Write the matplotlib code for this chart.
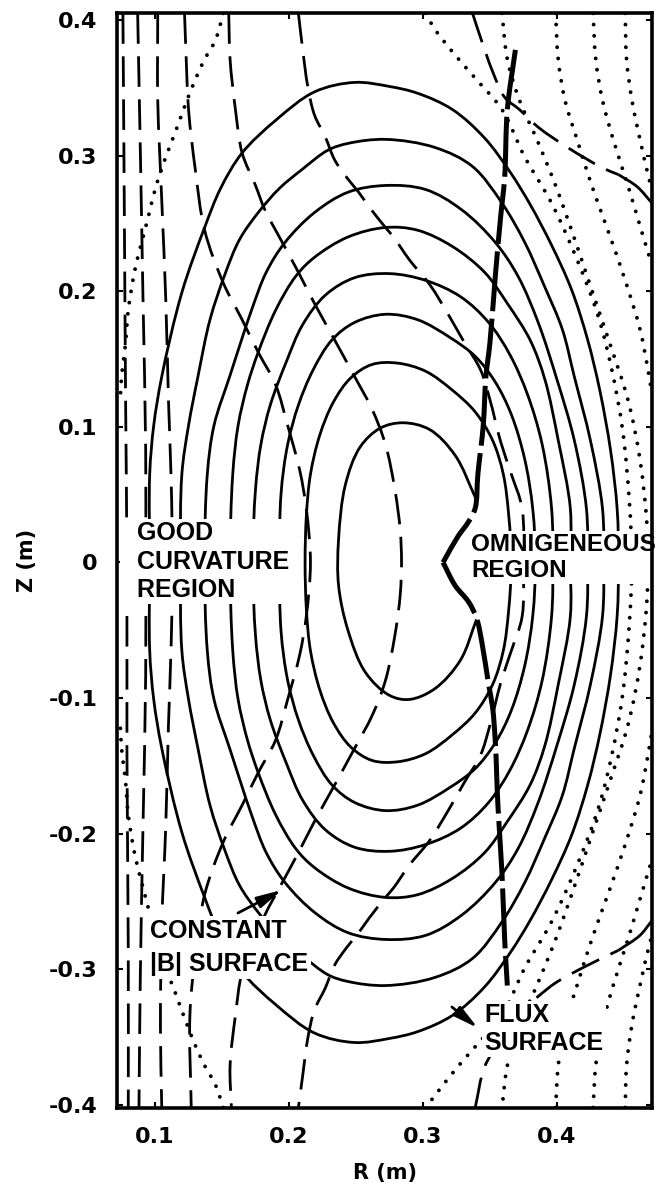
import numpy as np
import matplotlib
matplotlib.use('Agg')
import matplotlib.pyplot as plt
from matplotlib.path import Path
from matplotlib.patches import PathPatch
from matplotlib import font_manager

plt.rcParams['axes.unicode_minus'] = False

# ---- flux surfaces (solid), outermost first, R and Z in metres ----
# each surface: upper half from the outboard midplane round to the inboard one, then the lower half back
s1_up_r = [0.446, 0.445, 0.440, 0.432, 0.423, 0.411, 0.396, 0.380, 0.365, 0.346, 0.322, 0.296, 0.275, 0.249,
           0.219, 0.190, 0.165, 0.149, 0.137, 0.120, 0.105, 0.099, 0.096, 0.096]
s1_up_z = [0.0, 0.039, 0.083, 0.127, 0.164, 0.201, 0.234, 0.264, 0.288, 0.313, 0.334, 0.346, 0.351, 0.354,
           0.347, 0.326, 0.302, 0.276, 0.247, 0.199, 0.137, 0.101, 0.065, 0.0]
s1_lo_r = [0.096, 0.099, 0.105, 0.120, 0.137, 0.149, 0.165, 0.190, 0.219, 0.249, 0.275, 0.296, 0.322, 0.346,
           0.365, 0.380, 0.396, 0.411, 0.423, 0.432, 0.440, 0.445]
s1_lo_z = [-0.065, -0.101, -0.137, -0.199, -0.247, -0.276, -0.302, -0.326, -0.347, -0.354, -0.351, -0.346,
           -0.334, -0.313, -0.288, -0.264, -0.234, -0.201, -0.164, -0.127, -0.083, -0.039]

s2_up_r = [0.435, 0.434, 0.425, 0.413, 0.404, 0.391, 0.376, 0.359, 0.337, 0.309, 0.272, 0.244, 0.229, 0.210,
           0.193, 0.177, 0.163, 0.152, 0.141, 0.132, 0.125, 0.120, 0.119]
s2_up_z = [0.0, 0.040, 0.090, 0.137, 0.172, 0.203, 0.236, 0.265, 0.292, 0.306, 0.312, 0.309, 0.304, 0.290,
           0.276, 0.258, 0.238, 0.212, 0.179, 0.137, 0.101, 0.065, 0.0]
s2_lo_r = [0.120, 0.125, 0.132, 0.141, 0.152, 0.163, 0.177, 0.193, 0.210, 0.229, 0.244, 0.272, 0.309, 0.337,
           0.359, 0.376, 0.391, 0.404, 0.413, 0.425, 0.434]
s2_lo_z = [-0.065, -0.101, -0.137, -0.179, -0.212, -0.238, -0.258, -0.276, -0.290, -0.304, -0.309, -0.312,
           -0.306, -0.292, -0.265, -0.236, -0.203, -0.172, -0.137, -0.090, -0.040]

s3_up_r = [0.423, 0.422, 0.413, 0.400, 0.386, 0.371, 0.354, 0.329, 0.302, 0.272, 0.244, 0.219, 0.197, 0.183,
           0.172, 0.156, 0.144, 0.139, 0.137]
s3_up_z = [0.0, 0.040, 0.090, 0.135, 0.177, 0.211, 0.236, 0.260, 0.275, 0.278, 0.273, 0.258, 0.236, 0.214,
           0.186, 0.138, 0.101, 0.065, 0.0]
s3_lo_r = [0.139, 0.144, 0.156, 0.172, 0.183, 0.197, 0.219, 0.244, 0.272, 0.302, 0.329, 0.354, 0.371, 0.386,
           0.400, 0.413, 0.422]
s3_lo_z = [-0.065, -0.101, -0.138, -0.186, -0.214, -0.236, -0.258, -0.273, -0.278, -0.275, -0.260, -0.236,
           -0.211, -0.177, -0.135, -0.090, -0.040]

s4_up_r = [0.410, 0.410, 0.401, 0.391, 0.380, 0.363, 0.346, 0.322, 0.296, 0.272, 0.244, 0.219, 0.205, 0.190,
           0.177, 0.169, 0.162, 0.158, 0.156]
s4_up_z = [0.0, 0.040, 0.090, 0.135, 0.164, 0.191, 0.214, 0.233, 0.245, 0.247, 0.240, 0.225, 0.211, 0.186,
           0.155, 0.131, 0.101, 0.065, 0.0]
s4_lo_r = [0.158, 0.162, 0.169, 0.177, 0.190, 0.205, 0.219, 0.244, 0.272, 0.296, 0.322, 0.346, 0.363, 0.380,
           0.391, 0.401, 0.410]
s4_lo_z = [-0.065, -0.101, -0.131, -0.155, -0.186, -0.211, -0.225, -0.240, -0.247, -0.245, -0.233, -0.214,
           -0.191, -0.164, -0.135, -0.090, -0.040]

s5_up_r = [0.397, 0.396, 0.389, 0.378, 0.365, 0.349, 0.328, 0.302, 0.275, 0.249, 0.227, 0.210, 0.198, 0.186,
           0.179, 0.175, 0.173]
s5_up_z = [0.0, 0.040, 0.087, 0.124, 0.153, 0.177, 0.196, 0.208, 0.213, 0.210, 0.197, 0.175, 0.148, 0.116,
           0.087, 0.054, 0.0]
s5_lo_r = [0.175, 0.179, 0.186, 0.198, 0.210, 0.227, 0.249, 0.275, 0.302, 0.328, 0.349, 0.365, 0.378, 0.389,
           0.396]
s5_lo_z = [-0.054, -0.087, -0.116, -0.148, -0.175, -0.197, -0.210, -0.213, -0.208, -0.196, -0.177, -0.153,
           -0.124, -0.087, -0.040]

s6_up_r = [0.384, 0.382, 0.376, 0.366, 0.354, 0.339, 0.320, 0.296, 0.272, 0.249, 0.232, 0.218, 0.207, 0.199,
           0.194, 0.193]
s6_up_z = [0.0, 0.039, 0.076, 0.109, 0.133, 0.152, 0.166, 0.179, 0.183, 0.177, 0.164, 0.142, 0.116, 0.087,
           0.050, 0.0]
s6_lo_r = [0.194, 0.199, 0.207, 0.218, 0.232, 0.249, 0.272, 0.296, 0.320, 0.339, 0.354, 0.366, 0.376, 0.382]
s6_lo_z = [-0.050, -0.087, -0.116, -0.142, -0.164, -0.177, -0.183, -0.179, -0.166, -0.152, -0.133, -0.109,
           -0.076, -0.039]

s7_up_r = [0.366, 0.364, 0.360, 0.352, 0.339, 0.322, 0.302, 0.281, 0.262, 0.246, 0.233, 0.223, 0.216, 0.213,
           0.212]
s7_up_z = [0.0, 0.035, 0.065, 0.090, 0.111, 0.127, 0.141, 0.147, 0.146, 0.136, 0.118, 0.094, 0.065, 0.035, 0.0]
s7_lo_r = [0.213, 0.216, 0.223, 0.233, 0.246, 0.262, 0.281, 0.302, 0.322, 0.339, 0.352, 0.360, 0.364]
s7_lo_z = [-0.035, -0.065, -0.094, -0.118, -0.136, -0.146, -0.147, -0.141, -0.127, -0.111, -0.090, -0.065,
           -0.035]

# innermost surface, closed on the right by the omnigeneous boundary
s8_r = [0.340, 0.324, 0.305, 0.285, 0.268, 0.253, 0.242, 0.237, 0.237, 0.244, 0.257, 0.275, 0.290, 0.309, 0.328, 0.340]
s8_z = [0.046, 0.079, 0.098, 0.103, 0.099, 0.085, 0.057, 0.017, -0.017, -0.050, -0.081, -0.098, -0.101, -0.093,
        -0.072, -0.042]

# ---- omnigeneous region boundary (heavy line) ----
omni_top_r = [0.369, 0.363, 0.361, 0.358, 0.354, 0.350, 0.347, 0.345, 0.341, 0.339, 0.334, 0.326, 0.315]
omni_top_z = [0.378, 0.334, 0.284, 0.255, 0.211, 0.162, 0.137, 0.101, 0.065, 0.040, 0.030, 0.019, 0.0]
omni_bot_r = [0.315, 0.324, 0.334, 0.340, 0.344, 0.349, 0.352, 0.354, 0.356, 0.359, 0.361, 0.363]
omni_bot_z = [0.0, -0.017, -0.029, -0.041, -0.059, -0.090, -0.107, -0.132, -0.180, -0.229, -0.278, -0.312]

# ---- constant |B| surfaces (dashed) ----
b1_r = [0.076, 0.077, 0.078, 0.079, 0.079, 0.080, 0.080]
b1_z = [0.405, 0.267, 0.120, 0.0, -0.138, -0.286, -0.402]
b2_r = [0.087, 0.089, 0.091, 0.093, 0.093, 0.093, 0.091, 0.089, 0.088]
b2_z = [0.405, 0.304, 0.194, 0.083, 0.0, -0.083, -0.194, -0.304, -0.402]
b3_r = [0.102, 0.102, 0.105, 0.108, 0.110, 0.112, 0.113, 0.112, 0.110, 0.108, 0.105, 0.104, 0.105]
b3_z = [0.405, 0.341, 0.267, 0.194, 0.120, 0.061, 0.0, -0.061, -0.120, -0.194, -0.267, -0.341, -0.402]
b4_r = [0.122, 0.123, 0.125, 0.130, 0.137, 0.151, 0.165, 0.177, 0.190, 0.199, 0.208, 0.213, 0.216,
        0.213, 0.208, 0.199, 0.190, 0.177, 0.165, 0.151, 0.137, 0.130, 0.126, 0.127]
b4_z = [0.405, 0.378, 0.334, 0.290, 0.245, 0.206, 0.179, 0.155, 0.131, 0.101, 0.068, 0.039, 0.0,
        -0.039, -0.068, -0.101, -0.131, -0.155, -0.179, -0.206, -0.245, -0.290, -0.334, -0.402]
b5_r = [0.155, 0.156, 0.160, 0.165, 0.175, 0.182, 0.195, 0.207, 0.219, 0.233, 0.249, 0.262, 0.272, 0.279, 0.283,
        0.284, 0.283, 0.279, 0.272, 0.262, 0.249, 0.233, 0.219, 0.207, 0.195, 0.182, 0.175, 0.165, 0.160, 0.156,
        0.157]
b5_z = [0.405, 0.371, 0.334, 0.302, 0.278, 0.260, 0.236, 0.214, 0.191, 0.166, 0.137, 0.113, 0.087, 0.054, 0.024,
        0.0, -0.024, -0.054, -0.087, -0.113, -0.137, -0.166, -0.191, -0.214, -0.236, -0.260, -0.278, -0.302,
        -0.334, -0.371, -0.402]
b6_r = [0.207, 0.210, 0.214, 0.219, 0.227, 0.234, 0.243, 0.252, 0.260, 0.272, 0.278, 0.290, 0.305, 0.320, 0.331,
        0.343, 0.350, 0.358, 0.366, 0.374, 0.375, 0.374, 0.366, 0.358, 0.350, 0.343, 0.331, 0.320, 0.305, 0.290,
        0.278, 0.272, 0.260, 0.252, 0.243, 0.234, 0.227, 0.219, 0.214, 0.210, 0.207]
b6_z = [0.405, 0.380, 0.351, 0.330, 0.314, 0.297, 0.284, 0.273, 0.262, 0.247, 0.240, 0.223, 0.205, 0.181, 0.162,
        0.142, 0.120, 0.089, 0.065, 0.040, 0.0, -0.040, -0.065, -0.089, -0.120, -0.142, -0.162, -0.181, -0.205,
        -0.223, -0.240, -0.247, -0.262, -0.273, -0.284, -0.297, -0.314, -0.330, -0.351, -0.380, -0.402]
b7_top_r = [0.337, 0.343, 0.352, 0.361, 0.372, 0.386, 0.408, 0.434, 0.446]
b7_top_z = [0.405, 0.387, 0.362, 0.343, 0.334, 0.321, 0.306, 0.291, 0.286]
b7_top_end_r = [0.446, 0.460, 0.471]
b7_top_end_z = [0.286, 0.277, 0.265]
b7_bot_r = [0.339, 0.346, 0.358, 0.372, 0.386, 0.399, 0.421, 0.446]
b7_bot_z = [-0.402, -0.372, -0.352, -0.332, -0.320, -0.310, -0.298, -0.286]
b7_bot_end_r = [0.446, 0.462, 0.471]
b7_bot_end_z = [-0.286, -0.275, -0.264]

# ---- dotted contours ----
d_left_top_r = [0.151, 0.145, 0.137, 0.130, 0.122, 0.115, 0.108, 0.100, 0.095, 0.090, 0.085, 0.080, 0.078, 0.075, 0.074]
d_left_top_z = [0.405, 0.385, 0.371, 0.356, 0.336, 0.317, 0.299, 0.275, 0.255, 0.236, 0.216, 0.186, 0.162, 0.137, 0.120]
d_left_bot_r = [0.151, 0.145, 0.137, 0.130, 0.122, 0.115, 0.108, 0.100, 0.095, 0.090, 0.085, 0.080, 0.078, 0.075, 0.074]
d_left_bot_z = [-0.402, -0.385, -0.371, -0.356, -0.336, -0.317, -0.299, -0.275, -0.255, -0.236, -0.216, -0.186,
                -0.162, -0.137, -0.120]
d1_r = [0.302, 0.309, 0.325, 0.340, 0.359, 0.376, 0.396, 0.416, 0.431, 0.441, 0.449, 0.454, 0.456, 0.454, 0.449,
        0.441, 0.431, 0.416, 0.396, 0.376, 0.359, 0.340, 0.325, 0.309, 0.302]
d1_z = [0.405, 0.393, 0.373, 0.356, 0.334, 0.299, 0.265, 0.221, 0.181, 0.142, 0.098, 0.046, 0.0, -0.046, -0.098,
        -0.142, -0.181, -0.221, -0.265, -0.299, -0.334, -0.356, -0.373, -0.393, -0.402]
d2_r = [0.359, 0.363, 0.372, 0.385, 0.399, 0.412, 0.426, 0.440, 0.453, 0.462, 0.467, 0.468, 0.467, 0.462, 0.453,
        0.440, 0.426, 0.412, 0.399, 0.385, 0.372, 0.363, 0.359]
d2_z = [0.405, 0.371, 0.341, 0.312, 0.278, 0.242, 0.201, 0.160, 0.120, 0.076, 0.031, 0.0, -0.031, -0.076, -0.120,
        -0.160, -0.201, -0.242, -0.278, -0.312, -0.341, -0.371, -0.402]
d3_top_r = [0.399, 0.401, 0.406, 0.415, 0.426, 0.438, 0.451, 0.462, 0.468, 0.471]
d3_top_z = [0.405, 0.371, 0.341, 0.312, 0.278, 0.245, 0.208, 0.172, 0.142, 0.124]
d3_bot_r = [0.399, 0.401, 0.406, 0.415, 0.426, 0.438, 0.451, 0.462, 0.468, 0.471]
d3_bot_z = [-0.402, -0.371, -0.341, -0.312, -0.278, -0.245, -0.208, -0.172, -0.142, -0.124]
d4_top_r = [0.427, 0.429, 0.434, 0.442, 0.453, 0.463, 0.471]
d4_top_z = [0.405, 0.371, 0.341, 0.312, 0.278, 0.245, 0.219]
d4_bot_r = [0.427, 0.429, 0.434, 0.442, 0.453, 0.463, 0.471]
d4_bot_z = [-0.402, -0.371, -0.341, -0.312, -0.278, -0.245, -0.219]
d5_top_r = [0.451, 0.452, 0.456, 0.462, 0.469, 0.471]
d5_top_z = [0.405, 0.371, 0.341, 0.312, 0.282, 0.275]
d5_bot_r = [0.451, 0.452, 0.456, 0.462, 0.469, 0.471]
d5_bot_z = [-0.402, -0.371, -0.341, -0.312, -0.282, -0.275]

# ---- axes ----
x_ticks = [0.1, 0.2, 0.3, 0.4]
x_labels = ['0.1', '0.2', '0.3', '0.4']
y_ticks = [0.4, 0.3, 0.2, 0.1, 0.0, -0.1, -0.2, -0.3, -0.4]
y_labels = ['0.4', '0.3', '0.2', '0.1', '0', '-0.1', '-0.2', '-0.3', '-0.4']

installed = {f.name for f in font_manager.fontManager.ttflist}
if 'Liberation Sans Narrow' in installed:
    label_family, label_size = 'Liberation Sans Narrow', 22
else:
    label_family, label_size = 'Liberation Sans', 18


def smooth_path(r, z, closed=False):
    # centripetal catmull-rom through the read points, drawn as bezier segments
    pts = np.column_stack([r, z]).astype(float)
    if closed:
        ext = np.vstack([pts[-1], pts, pts[0], pts[1]])
        segs = len(pts)
    else:
        ext = np.vstack([2 * pts[0] - pts[1], pts, 2 * pts[-1] - pts[-2]])
        segs = len(pts) - 1
    verts = [ext[1]]
    codes = [Path.MOVETO]
    for i in range(1, segs + 1):
        p0, p1, p2, p3 = ext[i - 1], ext[i], ext[i + 1], ext[i + 2]
        d01 = max(np.hypot(*(p1 - p0)) ** 0.5, 1e-9)
        d12 = max(np.hypot(*(p2 - p1)) ** 0.5, 1e-9)
        d23 = max(np.hypot(*(p3 - p2)) ** 0.5, 1e-9)
        m1 = d12 * ((p1 - p0) / d01 - (p2 - p0) / (d01 + d12) + (p2 - p1) / d12)
        m2 = d12 * ((p2 - p1) / d12 - (p3 - p1) / (d12 + d23) + (p3 - p2) / d23)
        verts += [p1 + m1 / 3.0, p2 - m2 / 3.0, p2]
        codes += [Path.CURVE4] * 3
    return Path(verts, codes)


SOLID = dict(linewidth=2.0, linestyle='-')
DASH = dict(linewidth=2.0, linestyle=(0, (11, 4.5)))
DOT = dict(linewidth=2.8, linestyle=(0, (0.01, 2.9)), capstyle='round')
HEAVY = dict(linewidth=3.6, linestyle=(0, (12, 1.5)))


def draw(ax, r, z, style, closed=False):
    patch = PathPatch(smooth_path(r, z, closed), facecolor='none', edgecolor='black',
                      joinstyle='round', zorder=2, **style)
    ax.add_patch(patch)


fig = plt.figure(figsize=(6.6, 11.9), dpi=100)
ax = fig.add_axes([0.1773, 0.0689, 0.8106, 0.9202])

surfaces = [(s1_up_r + s1_lo_r, s1_up_z + s1_lo_z), (s2_up_r + s2_lo_r, s2_up_z + s2_lo_z),
            (s3_up_r + s3_lo_r, s3_up_z + s3_lo_z), (s4_up_r + s4_lo_r, s4_up_z + s4_lo_z),
            (s5_up_r + s5_lo_r, s5_up_z + s5_lo_z), (s6_up_r + s6_lo_r, s6_up_z + s6_lo_z),
            (s7_up_r + s7_lo_r, s7_up_z + s7_lo_z)]
for r, z in surfaces:
    draw(ax, r, z, SOLID, closed=True)
draw(ax, s8_r, s8_z, SOLID)

for r, z in [(b1_r, b1_z), (b2_r, b2_z), (b3_r, b3_z), (b4_r, b4_z), (b5_r, b5_z),
             (b6_r, b6_z), (b7_top_r, b7_top_z), (b7_bot_r, b7_bot_z)]:
    draw(ax, r, z, DASH)
draw(ax, b7_top_end_r, b7_top_end_z, SOLID)
draw(ax, b7_bot_end_r, b7_bot_end_z, SOLID)

for r, z in [(d_left_top_r, d_left_top_z), (d_left_bot_r, d_left_bot_z), (d1_r, d1_z), (d2_r, d2_z),
             (d3_top_r, d3_top_z), (d3_bot_r, d3_bot_z), (d4_top_r, d4_top_z), (d4_bot_r, d4_bot_z),
             (d5_top_r, d5_top_z), (d5_bot_r, d5_bot_z)]:
    draw(ax, r, z, DOT)

draw(ax, omni_top_r, omni_top_z, HEAVY)
draw(ax, omni_bot_r, omni_bot_z, HEAVY)

ax.set_xlim(0.0716, 0.471)
ax.set_ylim(-0.4023, 0.4052)
ax.set_xticks(x_ticks)
ax.set_xticklabels(x_labels)
ax.set_yticks(y_ticks)
ax.set_yticklabels(y_labels)
ax.tick_params(direction='in', length=4, width=1.5, top=True, right=True, pad=14)
for lab in ax.get_xticklabels() + ax.get_yticklabels():
    lab.set_fontsize(16)
    lab.set_fontweight('bold')
for sp in ax.spines.values():
    sp.set_linewidth(2.6)

ax.set_xlabel('R (m)', fontsize=15, fontweight='bold')
ax.xaxis.set_label_coords(0.5, -0.05)
ax.set_ylabel('Z (m)', fontsize=15, fontweight='bold')
ax.yaxis.set_label_coords(-0.15, 0.5)

box = dict(facecolor='white', edgecolor='none', pad=2)
txt = dict(family=[label_family, 'DejaVu Sans'], fontweight='bold',
           ha='left', va='center', bbox=box, zorder=2.4)
# leading spaces widen the white box over the dashed lines near the wall
ax.text(0.0761, 0.0007, '  GOOD\n  CURVATURE\n  REGION', fontsize=label_size, linespacing=1.22, **txt)
ax.text(0.3362, 0.0037, 'OMNIGENEOUS\nREGION', fontsize=label_size - 0.5, linespacing=1.12, **txt)
ax.text(0.0960, -0.2839, 'CONSTANT\n|B| SURFACE', fontsize=label_size, linespacing=1.5, **txt)
ax.text(0.3460, -0.3440, 'FLUX\nSURFACE', fontsize=label_size, linespacing=1.17, **txt)

ax.annotate('', xy=(0.1948, -0.2415), xytext=(0.1619, -0.2585),
            arrowprops=dict(arrowstyle='-|>,head_length=1.5,head_width=0.35', lw=2,
                            color='black', shrinkA=0, shrinkB=0))
ax.annotate('', xy=(0.3410, -0.3433), xytext=(0.3216, -0.3278),
            arrowprops=dict(arrowstyle='-|>,head_length=1.5,head_width=0.35', lw=2,
                            color='black', shrinkA=0, shrinkB=0))

fig.savefig('out.png', dpi=100)
